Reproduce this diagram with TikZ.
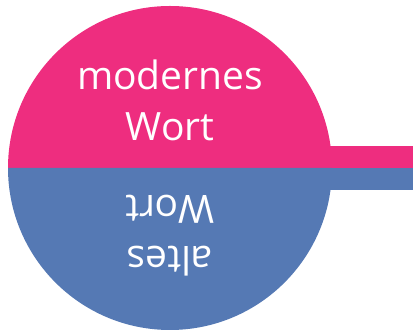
\documentclass[tikz,border=0pt]{standalone}
\usepackage{fontspec}
\setmainfont{Open Sans}
\usepackage{tikz}
\usetikzlibrary{positioning}
\definecolor{ModernPink}{RGB}{238,45,127}
\definecolor{OldBlue}{RGB}{85,121,180}

\begin{document}
\begin{tikzpicture}[x=1pt, y=1pt, every node/.style={font=\fontsize{39}{51}\selectfont, text=white, align=center, inner sep=0pt}]
    \useasboundingbox (0, 0) rectangle (413, 336);

    % Upper half: new word
    \fill[ModernPink] (8, 168) arc (180:0:162) -- cycle;
    \fill[ModernPink] (320, 168) rectangle (413, 190);

    % Lower half: old word
    \fill[OldBlue] (8, 168) arc (180:360:162) -- cycle;
    \fill[OldBlue] (320, 146) rectangle (413, 168);

    % Labels
    \node[anchor=south] (modern) at (170, 195) {modernes\\Wort};
    \node[anchor=south, rotate=180] (old) at (170, 141) {altes\\Wort};
\end{tikzpicture}
\end{document}
